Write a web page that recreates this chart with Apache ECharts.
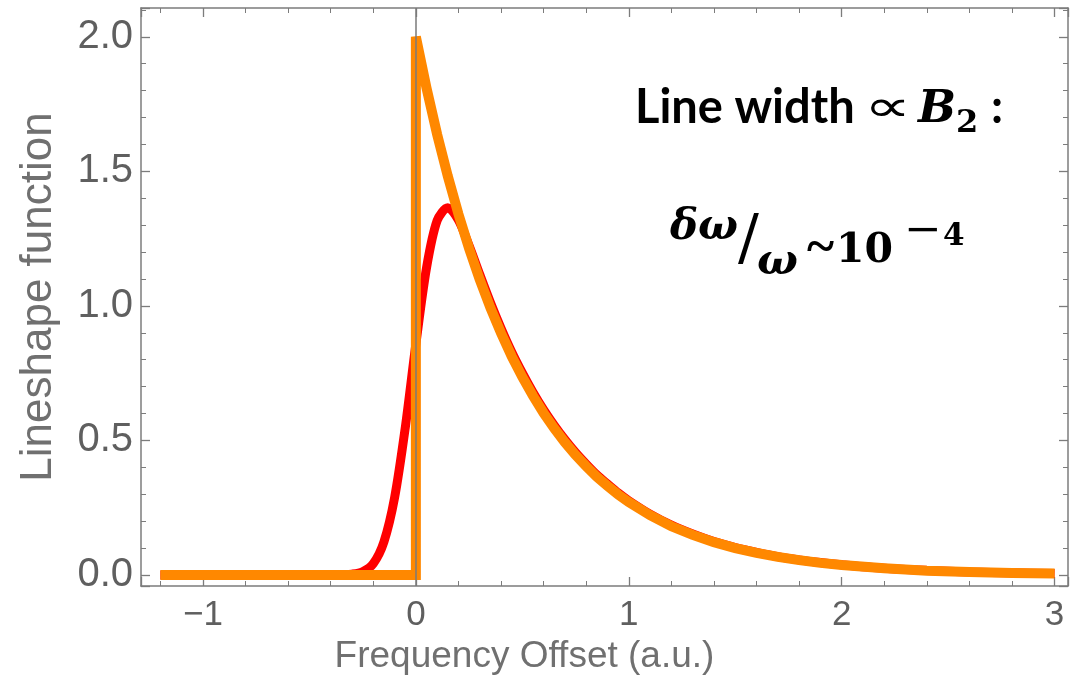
<!DOCTYPE html>
<html>
<head>
<meta charset="utf-8">
<title>Lineshape function</title>
<script src="https://cdn.jsdelivr.net/npm/echarts@6/dist/echarts.min.js"></script>
<style>
  html, body { margin: 0; padding: 0; background: #ffffff; }
  #chart { width: 1071px; height: 700px; }
</style>
</head>
<body>
<div id="chart"></div>
<script>
// Ideal (one-sided) lineshape: zero below the resonance, sharp edge at 0
const orangeX = [-1.2, 0, 0, 0.05, 0.10, 0.15, 0.20, 0.25, 0.30, 0.35, 0.40, 0.45, 0.50,
  0.55, 0.60, 0.65, 0.70, 0.75, 0.80, 0.85, 0.90, 0.95, 1.00, 1.1, 1.2, 1.3, 1.4, 1.5,
  1.6, 1.7, 1.8, 1.9, 2.0, 2.2, 2.4, 2.6, 2.8, 3.0];
const orangeY = [0, 0, 2.000, 1.810, 1.637, 1.482, 1.341, 1.213, 1.098, 0.993, 0.899, 0.813, 0.736,
  0.666, 0.602, 0.545, 0.493, 0.446, 0.404, 0.365, 0.331, 0.299, 0.271, 0.222, 0.181, 0.149, 0.122, 0.100,
  0.082, 0.067, 0.055, 0.045, 0.037, 0.025, 0.016, 0.011, 0.007, 0.005];

// Broadened lineshape: smooth rise below 0, rounded peak near 0.15
const redX = [-1.2, -0.4, -0.35, -0.3, -0.25, -0.2, -0.15, -0.1, -0.05, 0, 0.05, 0.10, 0.15,
  0.20, 0.25, 0.30, 0.35, 0.40, 0.45, 0.50, 0.55, 0.60, 0.65, 0.70, 0.75, 0.80, 0.85, 0.90,
  0.95, 1.00, 1.1, 1.2, 1.3, 1.4, 1.5, 1.6, 1.7, 1.8, 1.9, 2.0, 2.2, 2.4, 2.6, 2.8, 3.0];
const redY = [0, 0, 0.001, 0.003, 0.012, 0.042, 0.123, 0.287, 0.546, 0.858, 1.141, 1.317, 1.365,
  1.319, 1.224, 1.117, 1.013, 0.917, 0.829, 0.751, 0.679, 0.614, 0.556, 0.503, 0.455, 0.412, 0.372, 0.338,
  0.305, 0.276, 0.226, 0.185, 0.152, 0.124, 0.102, 0.084, 0.068, 0.056, 0.046, 0.038, 0.025, 0.017, 0.011, 0.008, 0.005];

const xRange = [-1.291, 3.063];
const yRange = [-0.041, 2.107];

const frameColor = '#7c7c7c';
const tickLabelColor = '#5f5f5f';
const nameColor = '#707070';

function pairs(xs, ys) { return xs.map((x, i) => [x, ys[i]]); }

function isMultiple(v, step) {
  const r = v / step;
  return Math.abs(r - Math.round(r)) < 1e-6;
}

function xLabel(v) {
  if (!isMultiple(v, 1)) return '';
  const n = Math.round(v);
  return n < 0 ? '\u2212' + Math.abs(n) : String(n);
}
function yLabel(v) {
  if (!isMultiple(v, 0.5)) return '';
  return v.toFixed(1);
}

const lineAxis = { show: true, onZero: false, lineStyle: { color: frameColor, width: 1.5 } };
const majorTick = { show: true, inside: true, length: 9, lineStyle: { color: frameColor, width: 1.3 } };
const minorTick = { show: true, splitNumber: 5, length: 5, lineStyle: { color: frameColor, width: 1 } };

function xAxisDef(position, labels) {
  return {
    type: 'value', position: position, min: xRange[0], max: xRange[1], splitNumber: 5,
    axisLine: lineAxis, axisTick: majorTick, minorTick: minorTick,
    splitLine: { show: false }, minorSplitLine: { show: false },
    axisLabel: labels ? {
      show: true, formatter: xLabel, margin: 12, color: tickLabelColor,
      fontFamily: 'Liberation Sans', fontSize: 35
    } : { show: false },
    name: labels ? 'Frequency Offset (a.u.)' : '',
    nameLocation: 'middle', nameGap: 46,
    nameTextStyle: { color: nameColor, fontFamily: 'Liberation Sans', fontSize: 37, padding: [0, 160, 0, 0] }
  };
}
function yAxisDef(position, labels) {
  return {
    type: 'value', position: position, min: yRange[0], max: yRange[1], splitNumber: 5,
    axisLine: lineAxis, axisTick: majorTick, minorTick: minorTick,
    splitLine: { show: false }, minorSplitLine: { show: false },
    axisLabel: labels ? {
      show: true, formatter: yLabel, margin: 8, color: tickLabelColor,
      fontFamily: 'Liberation Sans', fontSize: 40
    } : { show: false },
    name: labels ? 'Lineshape function' : '',
    nameLocation: 'middle', nameGap: 80,
    nameTextStyle: { color: nameColor, fontFamily: 'Liberation Sans', fontSize: 44 }
  };
}

function txt(text, x, y, font, extra) {
  return Object.assign({
    type: 'text', x: x, y: y, silent: true,
    style: { text: text, font: font, fill: '#000000', textAlign: 'left', textVerticalAlign: 'middle' }
  }, extra || {});
}

const chart = echarts.init(document.getElementById('chart'), null, { renderer: 'canvas' });

chart.setOption({
  animation: false,
  backgroundColor: '#ffffff',
  grid: { left: 141, top: 8, right: 1.5, bottom: 114, containLabel: false },
  xAxis: [xAxisDef('bottom', true), xAxisDef('top', false)],
  yAxis: [yAxisDef('left', true), yAxisDef('right', false)],
  series: [
    {
      type: 'line', xAxisIndex: 0, yAxisIndex: 0,
      data: pairs(redX, redY),
      showSymbol: false, smooth: 0.3, clip: true,
      lineStyle: { color: '#ff0000', width: 9, cap: 'butt' },
      z: 2
    },
    {
      type: 'line', xAxisIndex: 0, yAxisIndex: 0,
      data: pairs(orangeX, orangeY),
      showSymbol: false, smooth: false, clip: true,
      lineStyle: { color: '#ff8800', width: 10, cap: 'butt', join: 'miter', miterLimit: 2 },
      z: 3,
      markLine: {
        silent: true, symbol: 'none', animation: false, z: 10,
        label: { show: false },
        lineStyle: { color: '#7a7a7a', width: 1.5, type: 'solid' },
        data: [{ xAxis: 0 }]
      }
    }
  ],
  graphic: [
    // "Line width ∝ B₂:"
    txt('Line width', 635, 108, 'bold 47px Lato'),
    txt('\u221D', 864, 110, '200 44px "DejaVu Sans"', { scaleX: 1.5 }),
    txt('B', 918, 110, 'italic bold 45px "DejaVu Serif"'),
    txt('2', 956, 124, 'bold 32px "DejaVu Serif"'),
    txt(':', 991, 108, 'bold 47px Lato'),
    // "δω/ω ~10⁻⁴"
    txt('\u03B4\u03C9', 670, 228, 'italic bold 42px "DejaVu Serif"'),
    txt('/', 738, 242, '62px "DejaVu Serif"'),
    txt('\u03C9', 757, 263, 'italic bold 43px "DejaVu Serif"'),
    txt('~', 807, 250, 'bold 52px "Liberation Serif"'),
    txt('10', 836, 251, 'bold 41px "DejaVu Serif"'),
    txt('\u2212', 904, 231, 'bold 30px "DejaVu Serif"', { scaleX: 1.5 }),
    txt('4', 943, 237, 'bold 31px "DejaVu Serif"')
  ]
});
</script>
</body>
</html>
